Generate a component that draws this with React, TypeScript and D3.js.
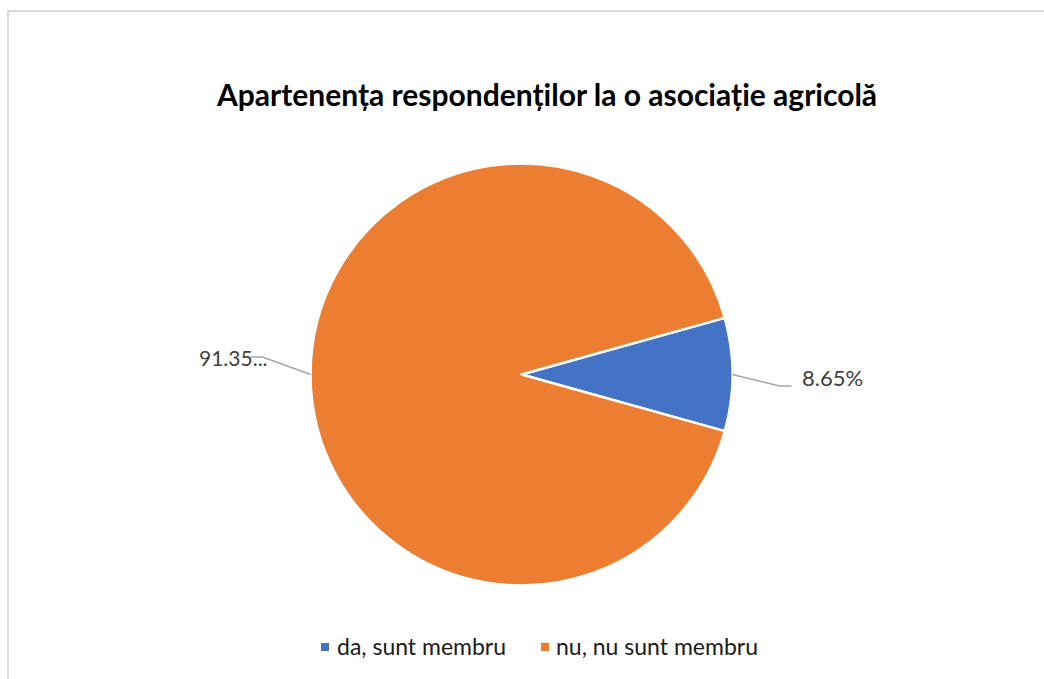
import React from "react";
import * as d3 from "d3";

const title = "Apartenența respondenților la o asociație agricolă";
const categories = ["da, sunt membru", "nu, nu sunt membru"];
const values = [8.65, 91.35];
const labels = ["8.65%", "91.35..."];
const colors = ["#4472C4", "#ED7D31"];

export default function App() {
  const W = 1044, H = 679;
  const cx = 521.5, cy = 374.5, r = 211;
  const blueSpan = (values[0] / d3.sum(values)) * 2 * Math.PI;
  const start = Math.PI / 2 - blueSpan / 2;
  const pie = d3.pie<number>().sort(null).startAngle(start).endAngle(start + 2 * Math.PI);
  const arcs = pie(values);
  const arc = d3.arc<d3.PieArcDatum<number>>().innerRadius(0).outerRadius(r);

  const leader = [
    { elbow: [47, 11.5], end: 12, tx: 802 - cx, ty: 386 - cy, fs: 22 },
    { elbow: [-48, -17.5], end: -12, tx: 199 - cx, ty: 366 - cy, fs: 21 },
  ];

  const legendItems = [
    { mx: 321, tx: 337 },
    { mx: 541, tx: 556 },
  ];

  return (
    <svg width={W} height={H} style={{ position: "absolute", left: 0, top: 0, background: "#fff" }}>
      <rect x={8} y={11} width={1200} height={800} fill="#fff" stroke="#d9d9d9" strokeWidth={2} />
      <text x={547} y={106} textAnchor="middle" fontFamily="Lato, 'Open Sans', sans-serif" fontWeight={700} fontSize={30} fill="#000">
        {title}
      </text>
      <g transform={`translate(${cx},${cy})`}>
        {arcs.map((a, i) => (
          <path key={i} d={arc(a) as string} fill={colors[i]} stroke="#fff" strokeWidth={2.5} strokeLinejoin="round" />
        ))}
        {arcs.map((a, i) => {
          const mid = (a.startAngle + a.endAngle) / 2;
          const px = Math.sin(mid) * r;
          const py = -Math.cos(mid) * r;
          const L = leader[i];
          const ex = px + L.elbow[0];
          const ey = py + L.elbow[1];
          const pts: [number, number][] = [[px, py], [ex, ey], [ex + L.end, ey]];
          return (
            <g key={"l" + i}>
              <path d={d3.line()(pts) as string} fill="none" stroke="#a6a6a6" strokeWidth={1.5} />
              <text x={L.tx} y={L.ty} fontFamily="Lato, 'Open Sans', sans-serif" fontSize={L.fs} fill="#404040">
                {labels[i]}
              </text>
            </g>
          );
        })}
      </g>
      {categories.map((c, i) => (
        <g key={c}>
          <rect x={legendItems[i].mx} y={643} width={8} height={8} fill={colors[i]} />
          <text x={legendItems[i].tx} y={655} fontFamily="Lato, 'Open Sans', sans-serif" fontSize={23} fill="#1a1a1a">
            {c}
          </text>
        </g>
      ))}
    </svg>
  );
}
